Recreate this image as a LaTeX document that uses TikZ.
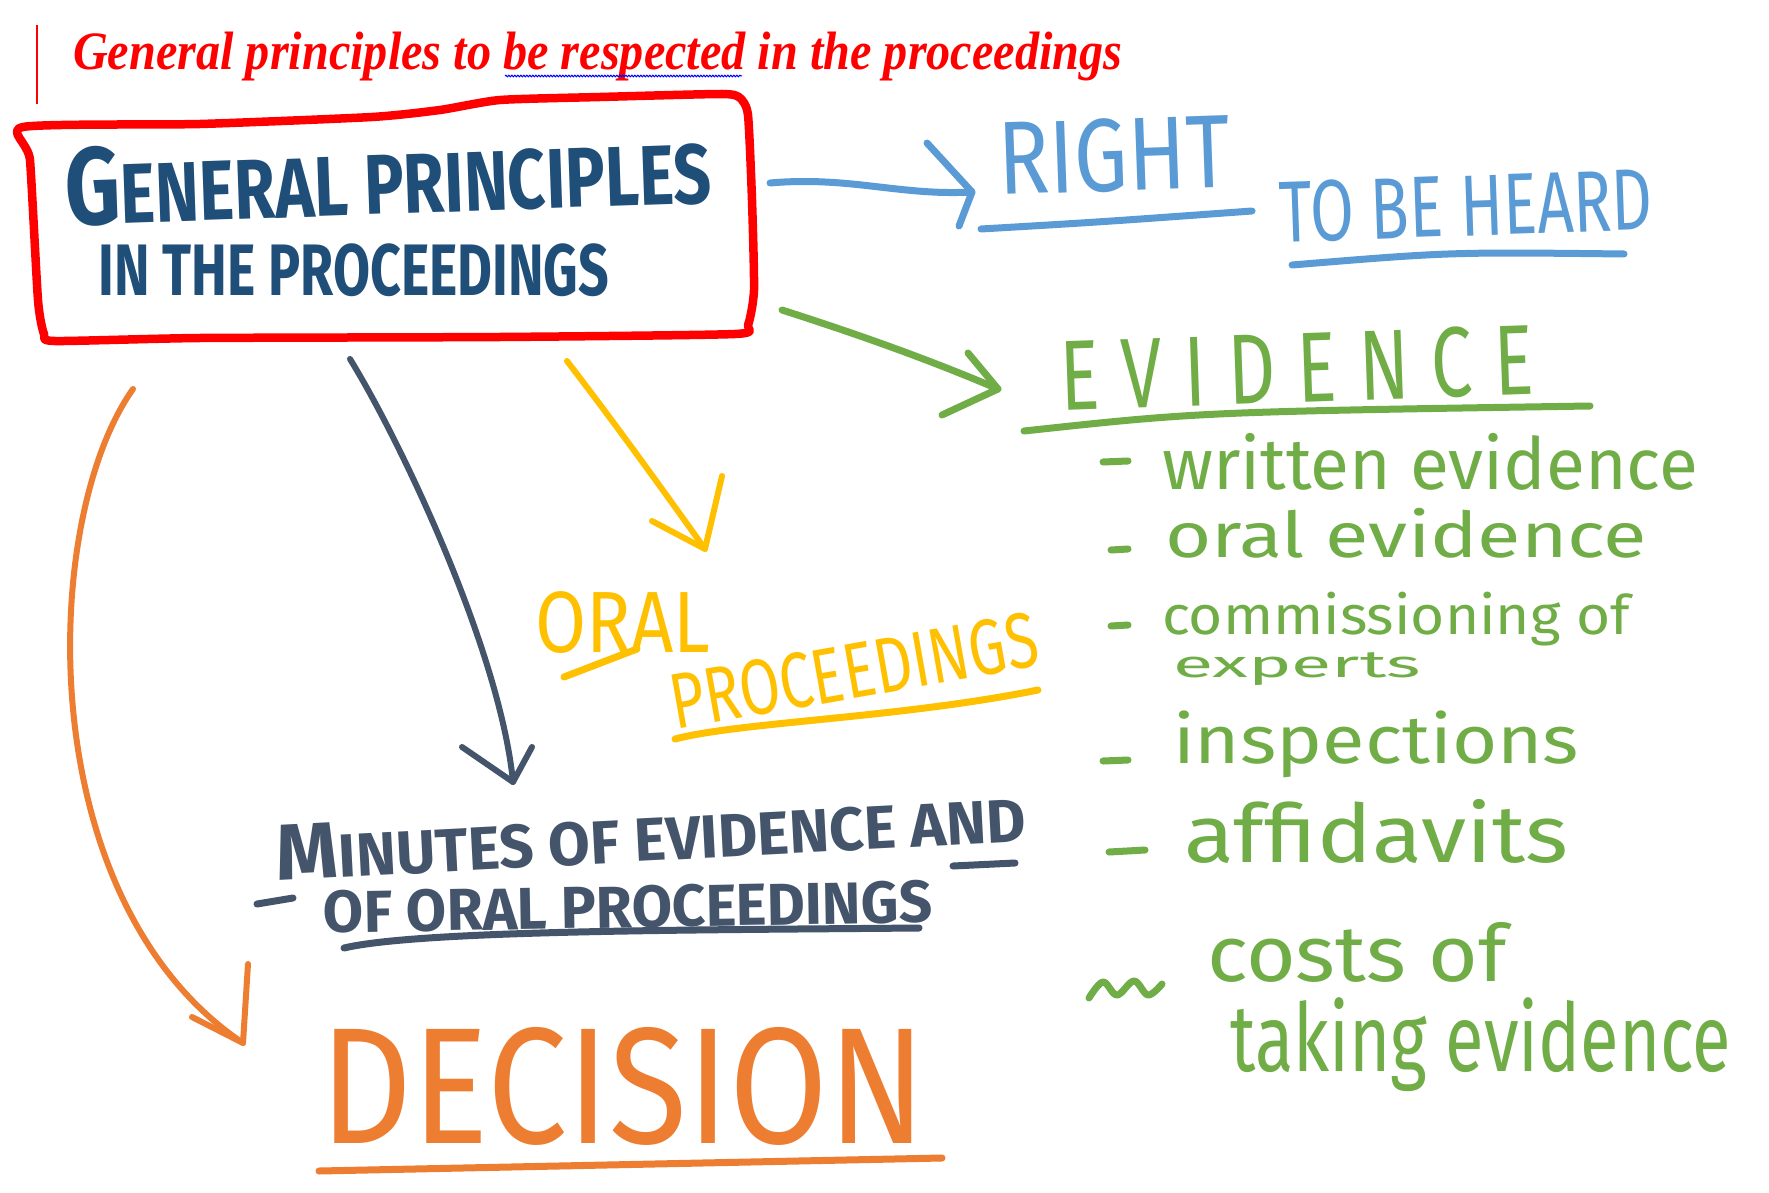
\documentclass[tikz,border=0pt]{standalone}
\usepackage{fontspec}
\setmainfont{Liberation Serif}
\newfontfamily\hand{Fira Sans}
\newfontfamily\titlefont{Liberation Serif}
\usetikzlibrary{decorations.pathmorphing}
\definecolor{boxred}{HTML}{FF0000}
\definecolor{navy}{HTML}{1F4E79}
\definecolor{sky}{HTML}{5B9BD5}
\definecolor{leaf}{HTML}{70AD47}
\definecolor{gold}{HTML}{FFC000}
\definecolor{slate}{HTML}{44546A}
\definecolor{tangerine}{HTML}{ED7D31}
\newcommand\fitbox[3]{\resizebox*{#1pt}{#2pt}{\hand #3}}
\newcommand\Bg[1]{{\fontsize{13}{13}\selectfont #1}}
\begin{document}
\begin{tikzpicture}[x=1pt,y=-1pt,
  pen/.style={line width=7pt, line cap=round, line join=round},
  thinpen/.style={line width=6pt, line cap=round, line join=round},
  txt/.style={inner sep=0pt, outer sep=0pt}]
\fill[white] (0,0) rectangle (1769,1193);
\useasboundingbox (0,0) rectangle (1769,1193);

% title
\draw[boxred, line width=2.5pt] (37,25) -- (37,104);
\node[txt, anchor=south west, text=boxred] (title) at (73,81)
  {\resizebox*{1049pt}{49pt}{\titlefont\bfseries\itshape General principles to be respected in the proceedings}};
\draw[blue, line width=1pt, decorate, decoration={snake, amplitude=0.8pt, segment length=3pt}] (505,76) -- (742,76);

% main box
\node[txt, text=navy, rotate=2] (gp) at (388,176)
  {\fitbox{646}{80}{\bfseries\fontsize{10}{10}\selectfont \Bg{G}ENERAL PRINCIPLES}};
\node[txt, text=navy] (gp2) at (354,270)
  {\fitbox{510}{53}{\bfseries IN THE PROCEEDINGS}};
\draw[boxred, line width=8.5pt, line cap=round, line join=round]
  plot[smooth cycle, tension=0.35] coordinates {(23,127) (200,124) (372,117) (440,110) (500,100) (600,97) (722,94) (740,98) (748,115) (752,200) (754,290) (748,325) (735,334) (500,337) (200,338) (55,341) (44,334) (38,300) (30,160)};

% right to be heard
\node[txt, text=sky, rotate=2] (right) at (1114,155) {\fitbox{232}{74}{RIGHT}};
\node[txt, text=sky, rotate=2] (heard) at (1466,206) {\fitbox{373}{62}{TO BE HEARD}};
\draw[pen, sky] (981,229) .. controls (1100,222) .. (1252,211);
\draw[pen, sky] (1292,265) .. controls (1450,252) .. (1624,254);
\coordinate (bS) at (770,183);
\coordinate (bT) at (972,192);
\coordinate (bA1) at (927,143);
\coordinate (bA2) at (959,226);
\draw[pen, sky] (bS) .. controls (850,176) and (900,196) .. (bT);
\draw[pen, sky] (bA1) -- (bT) -- (bA2);

% evidence
\node[txt, text=leaf, rotate=2] (evid) at (1297,368)
  {\fitbox{474}{71}{E\hspace{.3em}V\hspace{.3em}I\hspace{.3em}D\hspace{.3em}E\hspace{.3em}N\hspace{.3em}C\hspace{.3em}E}};
\draw[pen, leaf] (1024,431) .. controls (1200,412) .. (1590,406);
\coordinate (gS) at (782,310);
\coordinate (gT) at (998,389);
\coordinate (gA1) at (968,353);
\coordinate (gA2) at (942,415);
\draw[pen, leaf] (gS) .. controls (860,335) and (930,360) .. (gT);
\draw[pen, leaf] (gA1) -- (gT) -- (gA2);

\draw[pen, leaf] (1103,462) -- (1128,461);
\node[txt, anchor=west, text=leaf] (w1) at (1162,462) {\fitbox{536}{57}{written evidence}};
\draw[pen, leaf] (1111,550) -- (1128,549);
\node[txt, anchor=west, text=leaf] (w2) at (1165,533) {\fitbox{482}{50}{oral evidence}};
\draw[pen, leaf] (1111,626) -- (1128,625);
\node[txt, anchor=west, text=leaf] (w3) at (1162,619) {\fitbox{468}{54}{commissioning of}};
\node[txt, anchor=west, text=leaf] (w3b) at (1173,669) {\fitbox{248}{33}{experts}};
\draw[pen, leaf] (1103,761) -- (1128,760);
\node[txt, anchor=west, text=leaf] (w4) at (1173,744) {\fitbox{406}{67}{inspections}};
\draw[pen, leaf] (1109,852) -- (1145,850);
\node[txt, anchor=west, text=leaf] (w5) at (1184,831) {\fitbox{384}{64}{affidavits}};
\draw[pen, leaf] plot[smooth, tension=0.6] coordinates {(1089,998) (1103,982) (1117,995) (1134,981) (1148,995) (1162,984)};
\node[txt, anchor=west, text=leaf] (w6) at (1207,952) {\fitbox{300}{60}{costs of}};
\node[txt, anchor=west, text=leaf] (w7) at (1230,1045) {\fitbox{501}{94}{taking evidence}};

% oral proceedings
\node[txt, text=gold] (oral) at (623,623) {\fitbox{175}{62}{ORAL}};
\draw[pen, gold] (564,677) -- (637,649);
\node[txt, text=gold, rotate=10] (oproc) at (854,671) {\fitbox{372}{56}{PROCEEDINGS}};
\draw[pen, gold] (675,739) .. controls (740,722) and (900,718) .. (1038,690);
\coordinate (yS) at (567,361);
\coordinate (yT) at (705,549);
\coordinate (yA1) at (652,521);
\coordinate (yA2) at (722,476);
\draw[thinpen, gold] (yS) .. controls (620,430) and (670,500) .. (yT);
\draw[thinpen, gold] (yA1) -- (yT) -- (yA2);

% minutes
\node[txt, text=slate, rotate=3] (min1) at (651,834)
  {\fitbox{750}{56}{\bfseries\fontsize{10}{10}\selectfont \Bg{M}INUTES OF EVIDENCE AND}};
\draw[pen, slate] (953,866) -- (1015,863);
\draw[pen, slate] (257,904) -- (293,898);
\node[txt, text=slate, rotate=1] (min2) at (628,907) {\fitbox{609}{43}{\bfseries OF ORAL PROCEEDINGS}};
\draw[pen, slate] (344,948) .. controls (420,930) and (700,930) .. (919,928);
\coordinate (dS) at (350,359);
\coordinate (dT) at (513,782);
\coordinate (dA1) at (462,747);
\coordinate (dA2) at (532,747);
\draw[thinpen, slate] (dS) .. controls (400,440) and (500,650) .. (dT);
\draw[thinpen, slate] (dA1) -- (dT) -- (dA2);

% decision
\node[txt, text=tangerine] (dec) at (623,1086) {\fitbox{604}{118}{DECISION}};
\draw[pen, tangerine] (319,1171) -- (942,1158);
\coordinate (oS) at (133,389);
\coordinate (oT) at (243,1043);
\coordinate (oA1) at (192,1017);
\coordinate (oA2) at (248,964);
\draw[thinpen, tangerine] (oS) .. controls (40,520) and (30,900) .. (oT);
\draw[thinpen, tangerine] (oA1) -- (oT) -- (oA2);
\end{tikzpicture}
\end{document}
